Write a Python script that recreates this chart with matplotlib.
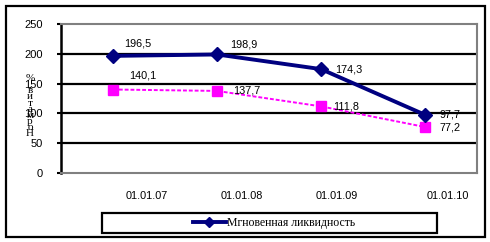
import matplotlib
matplotlib.use('Agg')
import matplotlib.pyplot as plt
from matplotlib.patches import Rectangle
from matplotlib.lines import Line2D

# data
dates = ['01.01.07', '01.01.08', '01.01.09', '01.01.10']
instant = [196.5, 198.9, 174.3, 97.7]      # Мгновенная ликвидность
norm = [140.1, 137.7, 111.8, 77.2]         # second series (not in legend)
instant_lbl = ['196,5', '198,9', '174,3', '97,7']
norm_lbl = ['140,1', '137,7', '111,8', '77,2']
yticks = [0, 50, 100, 150, 200, 250]

W, H = 490, 242
fig = plt.figure(figsize=(W / 100, H / 100), dpi=100)
fig.patch.set_facecolor('white')

# outer frame
fig.patches.append(Rectangle((6 / W, 1 - 237 / H), 479 / W, 231 / H, transform=fig.transFigure,
                             fill=False, edgecolor='black', linewidth=1.6))

ax = fig.add_axes([61 / W, 1 - 173 / H, 416 / W, 149 / H])
x = [i + 0.5 for i in range(len(dates))]

for y in yticks[1:-1]:
    ax.axhline(y, color='black', linewidth=1.6, zorder=1)

ax.plot(x, norm, color='#FF00FF', linestyle=(0, (2, 1)), linewidth=1.4,
        marker='s', markersize=7, markeredgecolor='#FF00FF', zorder=3)
ax.plot(x, instant, color='#000080', linewidth=2.8,
        marker='D', markersize=7.5, markeredgecolor='#000080', zorder=4)

inst_off = [(11, 12), (13, 10), (14, 0), (14, 0)]
norm_off = [(16, 14), (16, 0), (12, 0), (14, -1)]
for xi, v, s, o in zip(x, instant, instant_lbl, inst_off):
    ax.annotate(s, (xi, v), xytext=o, textcoords='offset pixels', ha='left', va='center',
                fontsize=7.8, family='Liberation Sans', zorder=5)
for xi, v, s, o in zip(x, norm, norm_lbl, norm_off):
    ax.annotate(s, (xi, v), xytext=o, textcoords='offset pixels', ha='left', va='center',
                fontsize=7.8, family='Liberation Sans', zorder=5)

ax.set_xlim(0, 4)
ax.set_ylim(0, 250)
ax.set_yticks(yticks)
ax.set_yticklabels([str(v) for v in yticks], fontsize=8, family='Liberation Sans')
ax.tick_params(axis='y', length=3, width=1.5, pad=10)
ax.set_xticks([0.827, 1.740, 2.654, 3.721])
ax.set_xticklabels(dates, fontsize=7.8, family='Liberation Sans')
ax.tick_params(axis='x', length=0, pad=13)

for side in ['top', 'right', 'bottom']:
    ax.spines[side].set_color('#808080')
    ax.spines[side].set_linewidth(1.5)
ax.spines['left'].set_color('black')
ax.spines['left'].set_linewidth(1.8)

# stacked y label, bottom to top
ylab = 'Норматив,%'
for i, ch in enumerate(ylab):
    fig.text(30 / W, 1 - (134 - i * 6.2) / H, ch, ha='center', va='center',
             fontsize=8, family='Liberation Serif')

# legend box
fig.patches.append(Rectangle((102 / W, 1 - 233 / H), 335 / W, 20 / H, transform=fig.transFigure,
                             fill=False, edgecolor='black', linewidth=1.6))
handle = Line2D([], [], color='#000080', linewidth=2.8, marker='D', markersize=5)
fig.legend([handle], ['Мгновенная ликвидность'], loc='center', bbox_to_anchor=(274 / W, 1 - 223 / H),
           frameon=False, prop={'family': 'Liberation Serif', 'size': 8.5},
           handlelength=2.8, handletextpad=0.1, borderpad=0)

fig.savefig('out.png', dpi=100)
